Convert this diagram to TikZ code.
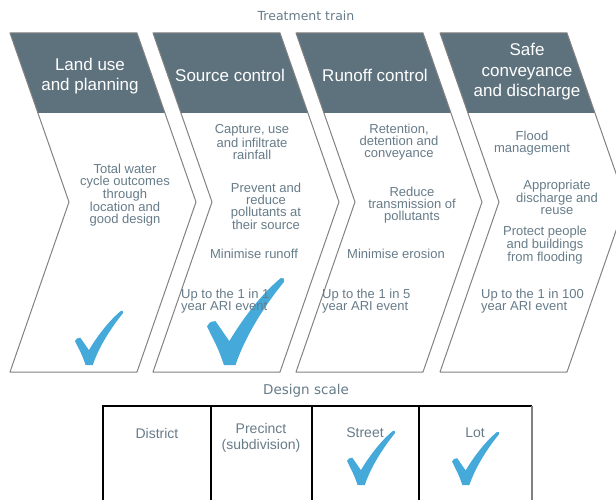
\documentclass[tikz,border=0pt]{standalone}
\usepackage{fontspec}
\setmainfont{Liberation Sans}
\newfontfamily\titlefont{DejaVu Sans}
\definecolor{slate}{RGB}{94,114,126}
\definecolor{bodytext}{RGB}{103,124,137}
\definecolor{tickblue}{RGB}{69,170,218}
\definecolor{edgegray}{RGB}{130,130,130}

% blue tick, lower left corner at (#1,#2), width #3
\newcommand{\tickmark}[3]{%
  \begin{scope}[shift={(#1,#2)},x=#3pt,y=#3pt]
    \fill[tickblue] (0,0.50) .. controls (0.04,0.56) .. (0.11,0.57) -- (0.29,0.31)
      .. controls (0.5,0.66) and (0.74,0.95) .. (0.96,1.13) .. controls (1.0,1.13) .. (1.0,1.08)
      .. controls (0.74,0.76) and (0.5,0.38) .. (0.37,0.0) -- (0.22,0.0)
      .. controls (0.15,0.2) .. (0,0.50) -- cycle;
  \end{scope}}

\begin{document}
\begin{tikzpicture}[x=1pt,y=-1pt,
  hdr/.style={white,align=center,inner sep=0,font=\fontsize{17}{20.5}\selectfont},
  txt/.style={bodytext,align=center,inner sep=0,font=\fontsize{13}{12}\selectfont},
  cell/.style={bodytext,align=center,inner sep=0,font=\fontsize{14}{16}\selectfont},
  caption/.style={bodytext,inner sep=0,font=\titlefont\fontsize{12.5}{14}\selectfont}]
\clip (0,0) rectangle (616,500);
\fill [white] (0,0) rectangle (616,500);

% treatment train
\node (train) at (306,16) [caption] {Treatment train};
\foreach \l in {10,153,296,440} {
  \fill [white] (\l,33) -- (\l+127,33) -- (\l+186,202) -- (\l+127,372) -- (\l,372) -- (\l+59,202) -- cycle;
  \fill [slate] (\l,33) -- (\l+127,33) -- (\l+155,113) -- (\l+28,113) -- cycle;
  \draw [edgegray,line width=1pt,line join=round] (\l,33) -- (\l+127,33) -- (\l+186,202) -- (\l+127,372) -- (\l,372) -- (\l+59,202) -- cycle;
}
\tickmark{75}{365}{48}
\tickmark{207}{365}{77}

\node (landuse) at (90,76) [hdr] {Land use\\and planning};
\node (source) at (230,75) [hdr] {Source control};
\node (runoff) at (375,75) [hdr] {Runoff control};
\node (safe) at (527,72) [hdr] {Safe\\conveyance\\and discharge};

\node (cycle) at (125,195) [txt] {Total water\\cycle outcomes\\through\\location and\\good design};

\node (capture) at (252,142) [txt] {Capture, use\\and infiltrate\\rainfall};
\node (prevent) at (266,206) [txt] {Prevent and\\reduce\\pollutants at\\their source};
\node (minrunoff) at (254,254) [txt] {Minimise runoff};
\node (ari1) at (181,301) [txt,anchor=west,align=left] {Up to the 1 in 1\\year ARI event};

\node (retention) at (399,142) [txt] {Retention,\\detention and\\conveyance};
\node (reduce) at (412,205) [txt] {Reduce\\transmission of\\pollutants};
\node (erosion) at (396,254) [txt] {Minimise erosion};
\node (ari5) at (322,301) [txt,anchor=west,align=left] {Up to the 1 in 5\\year ARI event};

\node (flood) at (532,143) [txt] {Flood\\management};
\node (discharge) at (557,197) [txt] {Appropriate\\discharge and\\reuse};
\node (protect) at (545,245) [txt] {Protect people\\and buildings\\from flooding};
\node (ari100) at (481,301) [txt,anchor=west,align=left] {Up to the 1 in 100\\year ARI event};

% design scale
\node (scale) at (306,391) [caption,font=\titlefont\fontsize{13.5}{15}\selectfont] {Design scale};
\draw [line width=1.8pt] (532,520) -- (103,520) -- (103,406) -- (532,406);
\draw [gray,line width=1.8pt] (532,406) -- (532,520);
\foreach \x in {211,312,419}
  \draw [line width=1.8pt] (\x,406) -- (\x,520);
\node (district) at (157,433) [cell] {District};
\node (precinct) at (261,438) [cell] {Precinct\\(subdivision)};
\node (street) at (365,433) [cell] {Street};
\node (lot) at (475,433) [cell] {Lot};
\tickmark{347}{485}{48}
\tickmark{452}{485}{47}
\end{tikzpicture}
\end{document}
